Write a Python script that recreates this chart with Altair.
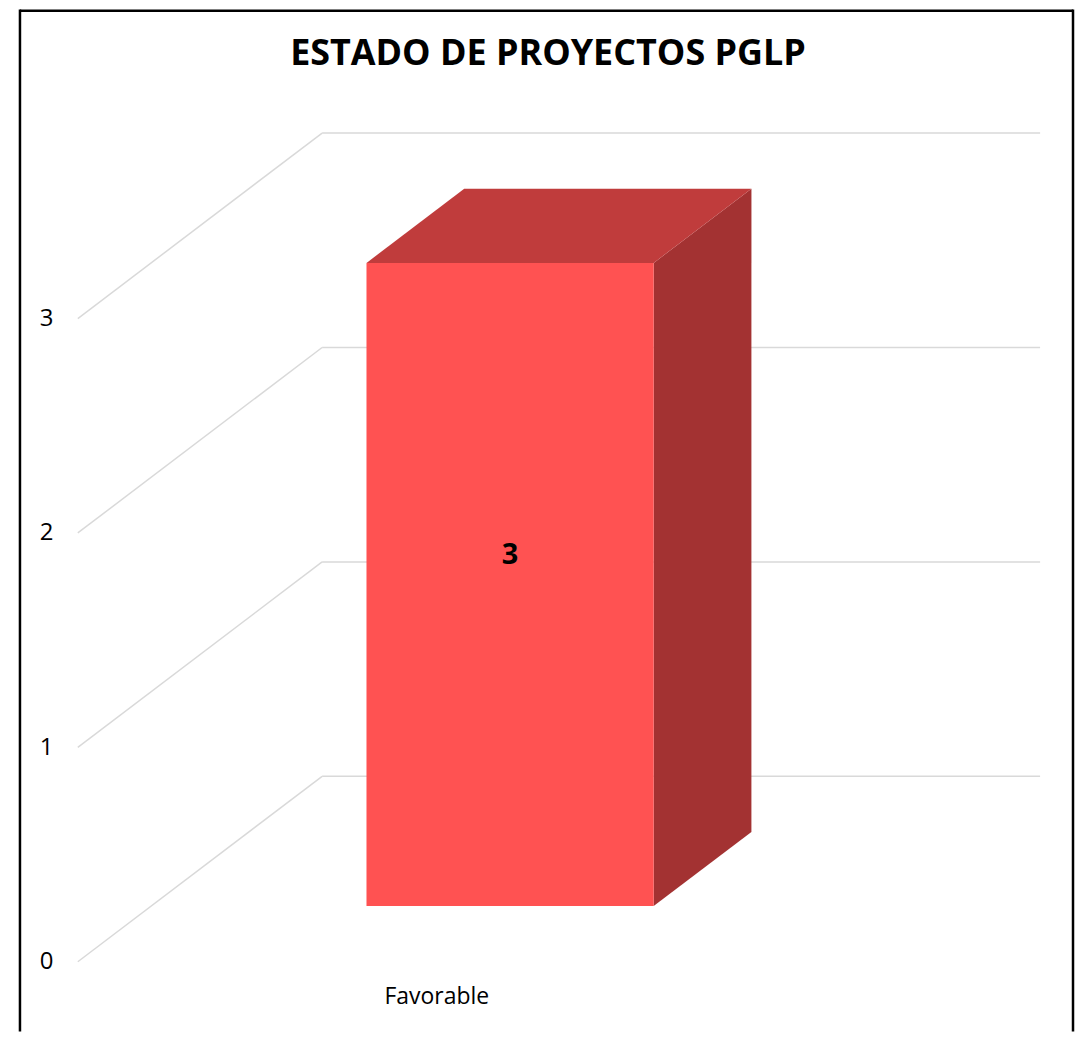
import altair as alt
import pandas as pd

# ---- data ----
title_text = "ESTADO DE PROYECTOS PGLP"
categories = ["Favorable"]
values = [3]
y_ticks = [0, 1, 2, 3]

# ---- layout (pixels inside the plot area) ----
W, H = 1070, 1025
X0 = 70          # left end of the front floor edge
FRONT_W = 720    # width of the front floor edge
Y0 = 955         # value 0 on the front plane
VY = 215         # pixels per value unit
DEPTH_X, DEPTH_Y = 245, 186   # oblique depth shift of the back wall

n = len(categories)
UX = FRONT_W / n
dx = DEPTH_X / UX          # depth shift in category units
dv = DEPTH_Y / VY          # depth shift in value units
gap = 1.5
bar_frac = 1 / (1 + gap)
off = (1 - bar_frac) / 2
zf, zb = 0.3, 0.7          # bar front / back depth

FONT = "Open Sans"

xscale = alt.Scale(domain=[-X0 / UX, (W - X0) / UX], nice=False, zero=False)
yscale = alt.Scale(domain=[(Y0 - H) / VY, Y0 / VY], nice=False, zero=False)
yaxis = alt.Axis(values=y_ticks, offset=-X0, labelPadding=25, domain=False,
                 ticks=False, grid=False, labelFont=FONT, labelFontSize=24,
                 labelColor="#000000", format="d", title=None)


def X(field):
    return alt.X(field, scale=xscale, axis=None)


def Y(field):
    return alt.Y(field, scale=yscale, axis=yaxis)


# gridlines
grid_rows = []
for v in y_ticks:
    grid_rows.append({"x": 0, "x2": dx, "y": v, "y2": v + dv})
    grid_rows.append({"x": dx, "x2": n + dx, "y": v + dv, "y2": v + dv})
grid_df = pd.DataFrame(grid_rows)

front_rows, side_rows, top_rows, lab_rows = [], [], [], []
for i, (c, val) in enumerate(zip(categories, values)):
    ul, ur = i + off, i + off + bar_frac
    tf, tb = val + zf * dv, val + zb * dv
    front_rows.append({"x": ul + zf * dx, "x2": ur + zf * dx, "y": zf * dv, "y2": tf})
    side_rows += [
        {"id": c, "x": ur + zf * dx, "y": zf * dv, "y2": tf},
        {"id": c, "x": ur + zb * dx, "y": zb * dv, "y2": tb},
    ]
    top_rows += [
        {"id": c, "x": ul + zf * dx, "y": tf, "y2": tf},
        {"id": c, "x": ul + zb * dx, "y": tf, "y2": tb},
        {"id": c, "x": ur + zf * dx, "y": tf, "y2": tb},
        {"id": c, "x": ur + zb * dx, "y": tb, "y2": tb},
    ]
    lab_rows.append({"cat": c, "val": str(val), "xc": i + 0.5, "xv": i + 0.5 + zf * dx,
                     "yv": val / 2 + zf * dv})
front_df = pd.DataFrame(front_rows)
side_df = pd.DataFrame(side_rows)
top_df = pd.DataFrame(top_rows)
lab_df = pd.DataFrame(lab_rows)

grid = alt.Chart(grid_df).mark_rule(color="#d9d9d9", strokeWidth=1.5).encode(
    x=X("x:Q"), x2="x2:Q", y=Y("y:Q"), y2="y2:Q",
)
side = alt.Chart(side_df).mark_area(color="#A33232", opacity=1).encode(
    x=X("x:Q"), y=Y("y:Q"), y2="y2:Q", detail="id:N",
)
top = alt.Chart(top_df).mark_area(color="#C03C3C", opacity=1).encode(
    x=X("x:Q"), y=Y("y:Q"), y2="y2:Q", detail="id:N",
)
front = alt.Chart(front_df).mark_rect(color="#FF5252").encode(
    x=X("x:Q"), x2="x2:Q", y=Y("y:Q"), y2="y2:Q",
)
val_label = alt.Chart(lab_df).mark_text(font=FONT, fontSize=29, fontWeight="bold",
                                         color="#000000", dy=-30).encode(
    x=X("xv:Q"), y=Y("yv:Q"), text="val:N",
)
cat_label = alt.Chart(lab_df).mark_text(font=FONT, fontSize=23, color="#000000").encode(
    x=X("xc:Q"), y=alt.value(Y0 + 35), text="cat:N",
)
title = alt.Chart(pd.DataFrame({"t": [title_text]})).mark_text(
    font=FONT, fontSize=36, fontWeight="bold", color="#000000").encode(
    x=alt.value(541.5), y=alt.value(45), text="t:N")

border = alt.Chart(pd.DataFrame({"d": [0]})).mark_rule(color="#000000", strokeWidth=2.5)
b_left = border.encode(x=alt.value(12), y=alt.value(0), y2=alt.value(H))
b_top = border.encode(x=alt.value(12), x2=alt.value(1068), y=alt.value(1.2))
b_right = border.encode(x=alt.value(1068), y=alt.value(0), y2=alt.value(H))

chart = alt.layer(grid, side, top, front, val_label, cat_label, title,
                  b_left, b_top, b_right).properties(
    width=W, height=H, autosize=alt.AutoSizeParams(type="none"), padding=0,
    background="#ffffff",
).configure_view(stroke=None)

chart.save("out.html", embed_options={"renderer": "svg", "actions": False})
